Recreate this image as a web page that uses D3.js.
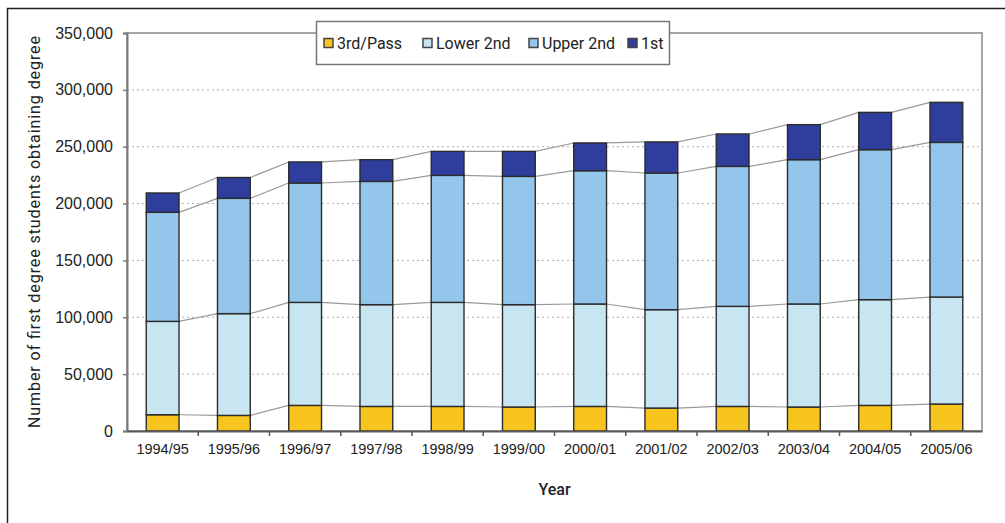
<!DOCTYPE html>
<html>
<head>
<meta charset="utf-8">
<script src="https://cdn.jsdelivr.net/npm/d3@7"></script>
<style>
  html, body { margin: 0; padding: 0; background: #ffffff; }
  svg { display: block; font-family: Roboto, "DejaVu Sans", sans-serif; }
</style>
</head>
<body>
<svg id="chart" width="1005" height="523"></svg>
<script>
const years = ["1994/95","1995/96","1996/97","1997/98","1998/99","1999/00","2000/01","2001/02","2002/03","2003/04","2004/05","2005/06"];
const seriesNames = ["3rd/Pass","Lower 2nd","Upper 2nd","1st"];
const thirdPass = [14300,13700,22500,21600,21600,21100,21600,20200,21600,21100,22500,23700];
const lower2nd  = [82100,89500,90600,89500,91500,90000,90100,86500,88000,90600,93000,94100];
const upper2nd  = [95900,101400,105000,108400,111700,112800,117200,120200,123100,126900,131900,136000];
const first     = [17000,18300,18500,19100,21100,22000,24400,27300,28500,30800,32800,35200];
const yTicks = [0,50000,100000,150000,200000,250000,300000,350000];
const colors = ["#f7c51d","#c8e5f2","#93c6ea","#2f3e9c"];

const svg = d3.select("#chart");
const plot = {left:127, right:982, top:33, bottom:431};

// outer frame (only left and top visible)
svg.append("rect").attr("x",7.5).attr("y",8.5).attr("width",1100).attr("height",600)
  .attr("fill","none").attr("stroke","#222").attr("stroke-width",1.5);

const x = d3.scaleBand().domain(years).range([plot.left, plot.right])
  .paddingInner(0.54).paddingOuter(0.27);
const y = d3.scaleLinear().domain([0,350000]).range([plot.bottom, plot.top]);

// gridlines
svg.append("g").selectAll("line").data(yTicks.filter(d => d > 0 && d < 350000)).join("line")
  .attr("x1", plot.left).attr("x2", plot.right)
  .attr("y1", d => y(d)).attr("y2", d => y(d))
  .attr("stroke","#b0b0b0").attr("stroke-width",1).attr("stroke-dasharray","2,3");

// plot border
svg.append("rect").attr("x",plot.left).attr("y",plot.top)
  .attr("width",plot.right-plot.left).attr("height",plot.bottom-plot.top)
  .attr("fill","none").attr("stroke","#8a8a8a").attr("stroke-width",1.5);

const table = years.map((yr,i) => ({year: yr, "3rd/Pass": thirdPass[i], "Lower 2nd": lower2nd[i], "Upper 2nd": upper2nd[i], "1st": first[i]}));
const stack = d3.stack().keys(seriesNames)(table);

// series lines between bars
stack.forEach(layer => {
  const segs = [];
  for (let i = 0; i < years.length - 1; i++) {
    segs.push({x1: x(years[i]) + x.bandwidth(), y1: y(layer[i][1]), x2: x(years[i+1]), y2: y(layer[i+1][1])});
  }
  svg.append("g").selectAll("line").data(segs).join("line")
    .attr("x1", d => d.x1).attr("y1", d => d.y1).attr("x2", d => d.x2).attr("y2", d => d.y2)
    .attr("stroke","#9a9a9a").attr("stroke-width",1.2);
});

// bars
stack.forEach((layer, k) => {
  svg.append("g").selectAll("rect").data(layer).join("rect")
    .attr("x", d => x(d.data.year)).attr("width", x.bandwidth())
    .attr("y", d => y(d[1])).attr("height", d => y(d[0]) - y(d[1]))
    .attr("fill", colors[k]).attr("stroke","#2b2b2b").attr("stroke-width",1.4);
});

// y axis
const yAxis = svg.append("g").attr("transform",`translate(${plot.left},0)`)
  .call(d3.axisLeft(y).tickValues(yTicks).tickFormat(d3.format(",")).tickSize(4).tickPadding(10));
yAxis.select(".domain").attr("stroke","#7a7a7a").attr("stroke-width",2);
yAxis.selectAll(".tick line").attr("stroke","#7a7a7a").attr("stroke-width",1.5);
yAxis.selectAll("text").attr("font-size",16).attr("fill","#222");

// x axis
const xAxis = svg.append("g").attr("transform",`translate(0,${plot.bottom})`)
  .call(d3.axisBottom(x).tickSize(0).tickPadding(13));
xAxis.select(".domain").attr("stroke","#5a5a5a").attr("stroke-width",2);
xAxis.selectAll("text").attr("font-size",14.5).attr("fill","#222");
// x ticks at category boundaries
const bounds = years.slice(1).map(yr => x(yr) - x.step()*x.paddingInner()/2);
svg.append("g").selectAll("line").data(bounds).join("line")
  .attr("x1", d => d).attr("x2", d => d).attr("y1", plot.bottom).attr("y2", plot.bottom + 5)
  .attr("stroke","#5a5a5a").attr("stroke-width",1.5);

// axis titles
svg.append("text").attr("x", (plot.left+plot.right)/2).attr("y", 495)
  .attr("text-anchor","middle").attr("font-size",16).attr("font-weight",500).attr("fill","#222").text("Year");
svg.append("text").attr("transform",`translate(40,${(plot.top+plot.bottom)/2}) rotate(-90)`)
  .attr("text-anchor","middle").attr("font-size",16).attr("fill","#222")
  .attr("textLength",392).attr("lengthAdjust","spacing")
  .text("Number of first degree students obtaining degree");

// legend
const lg = svg.append("g");
lg.append("rect").attr("x",316.5).attr("y",21.5).attr("width",353).attr("height",43)
  .attr("fill","#fff").attr("stroke","#777").attr("stroke-width",1.5);
const legendX = [324, 423, 529, 628];
seriesNames.forEach((name,k) => {
  lg.append("rect").attr("x",legendX[k]).attr("y",38.5).attr("width",9).attr("height",9)
    .attr("fill",colors[k]).attr("stroke","#444").attr("stroke-width",1.5);
  lg.append("text").attr("x",legendX[k]+13).attr("y",49).attr("font-size",16).attr("fill","#222").text(name);
});
</script>
</body>
</html>
